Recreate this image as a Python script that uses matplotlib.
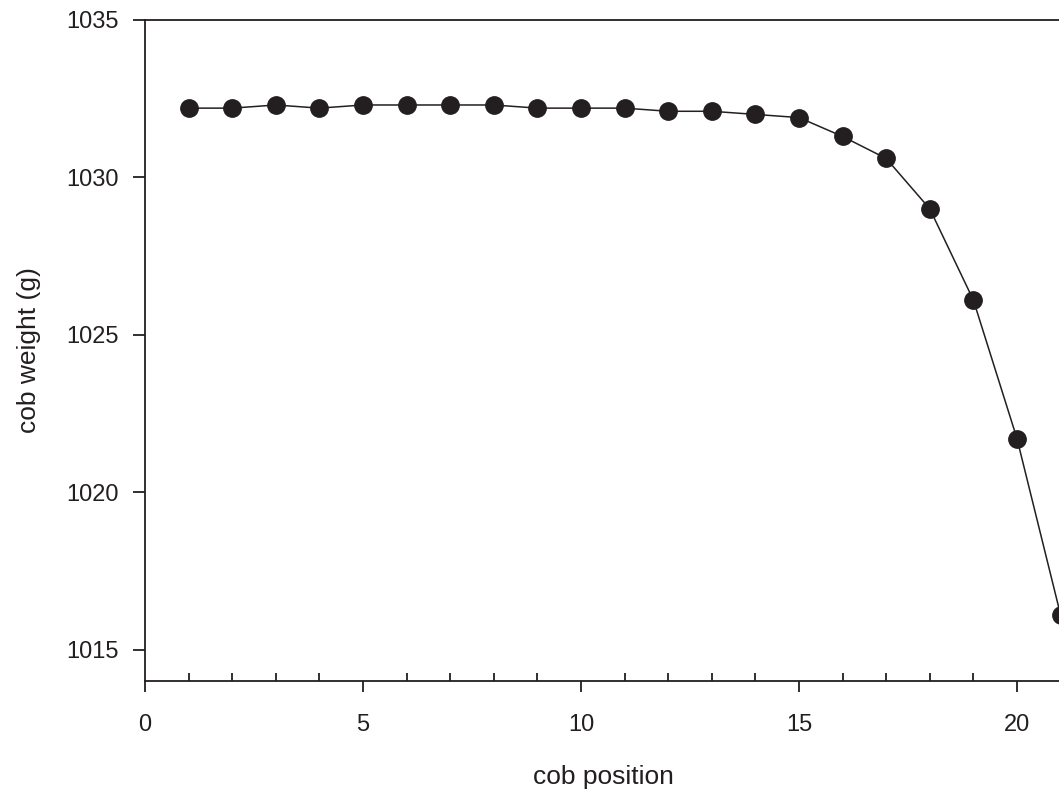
import matplotlib
matplotlib.use('Agg')
import matplotlib.pyplot as plt
from matplotlib.ticker import FixedLocator, MultipleLocator

plt.rcParams['font.family'] = ['Liberation Sans', 'DejaVu Sans']

positions = [1, 2, 3, 4, 5, 6, 7, 8, 9, 10, 11, 12, 13, 14, 15, 16, 17, 18, 19, 20, 21]
weights = [1032.2, 1032.2, 1032.3, 1032.2, 1032.3, 1032.3, 1032.3, 1032.3, 1032.2, 1032.2,
           1032.2, 1032.1, 1032.1, 1032.0, 1031.9, 1031.3, 1030.6, 1029.0, 1026.1, 1021.7, 1016.1]
xticks = [0, 5, 10, 15, 20]

W, H = 1059, 793
fig = plt.figure(figsize=(W / 100, H / 100), dpi=100)
# axes runs past the right edge of the figure, like the cropped original
ax = fig.add_axes([145 / W, 112 / H, 1090 / W, 661 / H])

col = '#231f20'
ax.plot(positions, weights, color=col, lw=1.1, marker='o', ms=12.5,
        mfc=col, mec=col, clip_on=False, zorder=3)

ax.set_xlim(0, 25)
ax.set_ylim(1014, 1035)
ax.xaxis.set_major_locator(FixedLocator(xticks))
ax.xaxis.set_minor_locator(FixedLocator([p for p in positions if p not in xticks]))
ax.yaxis.set_major_locator(MultipleLocator(5))

for s in ax.spines.values():
    s.set_linewidth(1.3)
    s.set_color(col)
ax.spines['right'].set_visible(False)

ax.tick_params(axis='x', which='major', direction='out', length=8, width=1.3,
               pad=16, labelsize=17, color=col, labelcolor=col)
ax.tick_params(axis='x', which='minor', direction='in', length=6, width=1.3, color=col)
ax.tick_params(axis='y', which='major', direction='out', length=9, width=1.3,
               pad=10, labelsize=17, color=col, labelcolor=col)

ax.set_xlabel('cob position', fontsize=19, color=col)
ax.xaxis.set_label_coords((603 - 145) / 1090, -(765 - 681) / 661, transform=ax.transAxes)
ax.set_ylabel('cob weight (g)', fontsize=19, color=col)
ax.yaxis.set_label_coords(-(145 - 41) / 1090, (681 - 350) / 661, transform=ax.transAxes)

fig.savefig('out.png', dpi=100)
